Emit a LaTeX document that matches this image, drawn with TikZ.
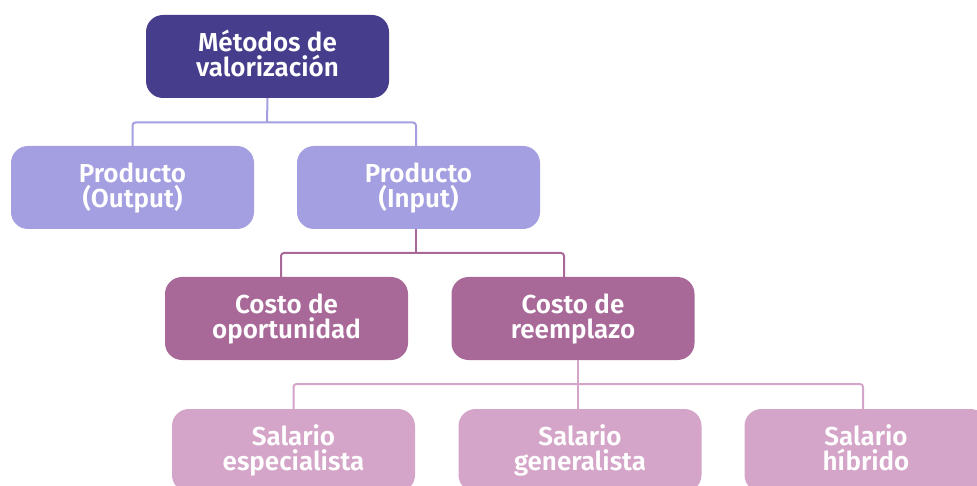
\documentclass[tikz,border=0pt]{standalone}
\usepackage{fontspec}
\setmainfont{Fira Sans}[UprightFont=* SemiBold]
\definecolor{cTop}{HTML}{463E8C}
\definecolor{cTwo}{HTML}{A49FE0}
\definecolor{cThree}{HTML}{A86898}
\definecolor{cFour}{HTML}{D4A5C8}
\newcommand\toprl{\rule{0pt}{22pt}}
\newcommand\botrl{\rule[-7pt]{0pt}{7pt}}
\newcommand\twolines[2]{\toprl#1\\#2\botrl}
\tikzset{
  box/.style={rectangle, rounded corners=17pt, minimum width=243pt, minimum height=83pt,
    inner sep=0pt, align=center, text=white, font=\fontsize{26}{25}\selectfont},
  lvlone/.style={box, fill=cTop},
  lvltwo/.style={box, fill=cTwo},
  lvlthree/.style={box, fill=cThree},
  lvlfour/.style={box, fill=cFour},
  conn/.style={line width=2pt, rounded corners=3pt},
}
\begin{document}
\begin{tikzpicture}[x=1pt, y=-1pt]
\useasboundingbox (0,0) rectangle (977,486);
\clip (0,0) rectangle (977,486);
\node[lvlone] (top) at (267.5,56.5) {\twolines{Métodos de}{valorización}};
\node[lvltwo] (out) at (132.5,187.5) {\twolines{Producto}{(Output)}};
\node[lvltwo] (inp) at (418.5,187.5) {\twolines{Producto}{(Input)}};
\node[lvlthree] (opo) at (286.5,318.5) {\twolines{Costo de}{oportunidad}};
\node[lvlthree] (ree) at (573,318.5) {\twolines{Costo de}{reemplazo}};
\node[lvlfour] (esp) at (293.5,450.5) {\twolines{Salario}{especialista}};
\node[lvlfour] (gen) at (580,450.5) {\twolines{Salario}{generalista}};
\node[lvlfour] (hib) at (866,450.5) {\twolines{Salario}{híbrido}};
% level 1 -> 2
\coordinate (ja) at (267,122.5);
\draw[conn, cTwo] (top.south) -- (ja);
\draw[conn, cTwo] (out.north) |- (ja) -| ([xshift=-2.5pt]inp.north);
% level 2 -> 3
\coordinate (jb) at (416,253);
\draw[conn, cThree] ([xshift=-2.5pt]inp.south) -- (jb);
\draw[conn, cThree] ([xshift=-5.5pt]opo.north) |- (jb) -| ([xshift=-9pt]ree.north);
% level 3 -> 4
\coordinate (jc) at (578,384);
\draw[conn, cFour] ([xshift=5pt]ree.south) -- (jc);
\draw[conn, cFour] (esp.north) |- (jc) -| ([xshift=-3pt]hib.north);
\draw[conn, cFour] (jc) -- ([xshift=-2pt]gen.north);
\end{tikzpicture}
\end{document}
